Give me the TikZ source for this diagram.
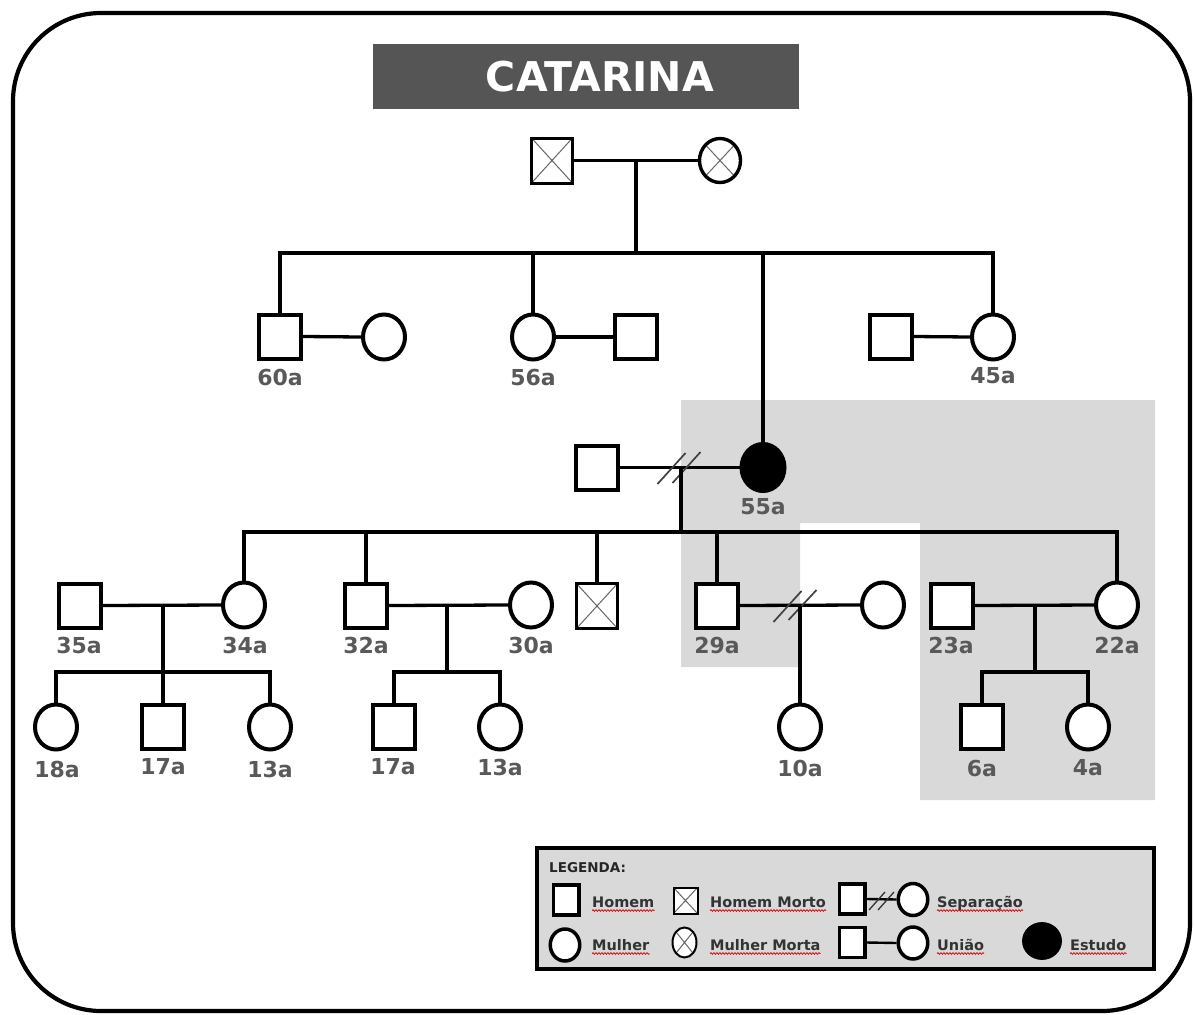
\documentclass[tikz,border=0pt]{standalone}
\usepackage{fontspec}
\setmainfont{DejaVu Sans}
\usetikzlibrary{shapes.geometric,decorations.pathmorphing}
\definecolor{shadegray}{HTML}{D9D9D9}
\definecolor{titlebg}{HTML}{555555}
\definecolor{lblgray}{HTML}{595959}
\definecolor{legtxt}{HTML}{333333}
\definecolor{xgray}{HTML}{666666}
\begin{document}
\begin{tikzpicture}[x=1pt,y=-1pt,
  rel/.style={line width=3.3pt},
  male/.style={draw, line width=4pt, fill=white, rectangle, minimum width=42pt, minimum height=44pt, inner sep=0pt},
  female/.style={draw, line width=4pt, fill=white, ellipse, minimum width=42pt, minimum height=45pt, inner sep=0pt},
  xmark/.style={path picture={\draw[xgray, line width=1pt]
      (path picture bounding box.north west) -- (path picture bounding box.south east)
      (path picture bounding box.north east) -- (path picture bounding box.south west);}},
  deadmale/.style={male, line width=3pt, minimum width=41pt, minimum height=45pt, xmark},
  deadfemale/.style={female, line width=3.4pt, minimum width=41pt, minimum height=44pt, xmark},
  proband/.style={draw, fill=black, ellipse, line width=1pt, minimum width=46pt, minimum height=50pt, inner sep=0pt},
  agelbl/.style={font=\bfseries\fontsize{22}{24}\selectfont, text=lblgray, inner sep=0pt},
  sepmark/.style={line width=1.7pt, black!75},
  lmale/.style={draw, line width=3.5pt, fill=white, rectangle, minimum width=25.5pt, minimum height=30pt, inner sep=0pt},
  lfemale/.style={draw, line width=3.5pt, fill=white, ellipse, minimum width=29.5pt, minimum height=32pt, inner sep=0pt},
  ldeadmale/.style={draw, line width=2pt, fill=white, rectangle, minimum width=24pt, minimum height=26pt, inner sep=0pt, xmark},
  ldeadfemale/.style={draw, line width=2pt, fill=white, ellipse, minimum width=24pt, minimum height=30pt, inner sep=0pt, xmark},
  legt/.style={font=\bfseries\fontsize{14.5}{16}\selectfont, text=legtxt, inner sep=0pt, anchor=base west},
  squig/.style={draw=red!85!black, line width=0.7pt, decorate, decoration={snake, amplitude=0.9pt, segment length=3pt}}
]
\useasboundingbox (0,0) rectangle (1195,1015);
\fill[white] (0,0) rectangle (1195,1015);

% shaded area
\fill[shadegray] (681,400) -- (1155,400) -- (1155,800) -- (920,800) -- (920,523)
  -- (800,523) -- (800,667) -- (681,667) -- cycle;

% outer frame
\draw[line width=4.2pt, rounded corners=88pt] (13,13) rectangle (1190,1011);

% title
\node[fill=titlebg, minimum width=426pt, minimum height=65pt, inner sep=0pt] (titlebox) at (586,76.5) {};
\node[font=\bfseries\fontsize{41}{44}\selectfont, text=white, inner sep=0pt] (title) at (600,77) {CATARINA};

% generation I
\node[deadmale] (gf) at (552,160.5) {};
\node[deadfemale] (gm) at (720,160.5) {};

% generation II
\node[male] (u1) at (280,336.5) {};
\node[female] (u1w) at (384,337) {};
\node[female] (a2) at (533,337) {};
\node[male] (a2h) at (636,337) {};
\node[male] (a4h) at (891,336.5) {};
\node[female] (a4) at (993,337) {};
\node[male] (cath) at (597,467.5) {};
\node[proband] (cat) at (763,467.5) {};

% generation III
\node[male] (c1h) at (80,605.5) {};
\node[female] (c1) at (244,605) {};
\node[male] (c2) at (366,605.5) {};
\node[female] (c2w) at (531,605) {};
\node[deadmale] (c3) at (597,606) {};
\node[male] (c4) at (717,605.5) {};
\node[female] (c4w) at (883,605) {};
\node[male] (c5h) at (952,605.5) {};
\node[female] (c5) at (1117,605) {};

% generation IV
\node[female] (g1) at (56,727) {};
\node[male] (g2) at (163,727) {};
\node[female] (g3) at (270,727) {};
\node[male] (g4) at (394,727) {};
\node[female] (g5) at (500,727) {};
\node[female] (g6) at (800,727) {};
\node[male] (g7) at (982,727) {};
\node[female] (g8) at (1088,727) {};

% coordinates
\coordinate (j1) at (636,161);
\coordinate (s1) at (636,253);
\coordinate (j2) at (681,467.5);
\coordinate (s2) at (681,532);
\coordinate (j3) at (163,605.5);
\coordinate (s3) at (163,672);
\coordinate (j4) at (447,605.5);
\coordinate (s4) at (447,672);
\coordinate (j5) at (800,605.5);
\coordinate (j6) at (1035,605.5);
\coordinate (s6) at (1035,672);

% generation I relations
\draw[rel] (gf.east) -- (gm.west);
\draw[rel] (j1) -- (s1);
\draw[rel] (u1.north) |- (s1) -| (a4.north);
\draw[rel] (a2.north) -- (a2.north |- s1);
\draw[rel] (cat.north) -- (cat.north |- s1);

% generation II relations
\draw[rel] (u1.east) -- (u1w.west);
\draw[rel] (a2.east) -- (a2h.west);
\draw[rel] (a4h.east) -- (a4.west);
\draw[rel] (cath.east) -- (cat.west);
\draw[sepmark] (657.5,484) -- (685.5,453);
\draw[sepmark] (672.5,483) -- (700.5,452);
\draw[rel] (j2) -- (s2);
\draw[rel] (c1.north) |- (s2) -| (c5.north);
\draw[rel] (c2.north) -- (c2.north |- s2);
\draw[rel] (c3.north) -- (c3.north |- s2);
\draw[rel] (c4.north) -- (c4.north |- s2);

% generation III relations
\draw[rel] (c1h.east) -- (c1.west);
\draw[rel] (c2.east) -- (c2w.west);
\draw[rel] (c4.east) -- (c4w.west);
\draw[rel] (c5h.east) -- (c5.west);
\draw[sepmark] (773.5,622) -- (801.5,591);
\draw[sepmark] (788.5,620) -- (816.5,590);
\draw[rel] (j3) -- (g2.north);
\draw[rel] (g1.north) |- (s3) -| (g3.north);
\draw[rel] (j4) -- (s4);
\draw[rel] (g4.north) |- (s4) -| (g5.north);
\draw[rel] (j5) -- (g6.north);
\draw[rel] (j6) -- (s6);
\draw[rel] (g7.north) |- (s6) -| (g8.north);

% age labels
\node[agelbl] (l60) at (280,377) {60a};
\node[agelbl] (l56) at (533,377) {56a};
\node[agelbl] (l45) at (993,376) {45a};
\node[agelbl] (l55) at (763,507) {55a};
\node[agelbl] (l35) at (79,645) {35a};
\node[agelbl] (l34) at (245,645) {34a};
\node[agelbl] (l32) at (366,645) {32a};
\node[agelbl] (l30) at (531,645) {30a};
\node[agelbl] (l29) at (717,645) {29a};
\node[agelbl] (l23) at (951,645) {23a};
\node[agelbl] (l22) at (1117,645) {22a};
\node[agelbl] (l18) at (57,769) {18a};
\node[agelbl] (l17a) at (163,767) {17a};
\node[agelbl] (l13a) at (270,769) {13a};
\node[agelbl] (l17b) at (393,767) {17a};
\node[agelbl] (l13b) at (500,767) {13a};
\node[agelbl] (l10) at (800,768) {10a};
\node[agelbl] (l6) at (982,768) {6a};
\node[agelbl] (l4) at (1088,768) {4a};

% legend
\node[draw, line width=3.2pt, fill=shadegray, minimum width=617pt, minimum height=121pt, inner sep=0pt] (legbox) at (845.5,908.5) {};
\node[font=\bfseries\fontsize{13.5}{15}\selectfont, text=black!85, inner sep=0pt, anchor=base west] (legtitle) at (549,872) {LEGENDA:};

\node[lmale] (lH) at (566,900) {};
\node[legt] (tH) at (592,907) {Homem};
\node[ldeadmale] (lHM) at (685.5,900.5) {};
\node[legt] (tHM) at (710,907) {Homem Morto};
\node[lmale] (lSm) at (852,899) {};
\node[lfemale] (lSf) at (913,899.5) {};
\draw[line width=2.4pt] (lSm.east) -- (lSf.west);
\draw[line width=1.3pt, black!80] (869,910) -- (885,892);
\draw[line width=1.3pt, black!80] (878,910) -- (894,892);
\node[legt] (tS) at (937,907) {Separação};

\node[lfemale] (lM) at (565,945) {};
\node[legt] (tM) at (592,950) {Mulher};
\node[ldeadfemale] (lMM) at (684.5,942.5) {};
\node[legt] (tMM) at (710,950) {Mulher Morta};
\node[lmale] (lUm) at (852,942.5) {};
\node[lfemale] (lUf) at (913,943) {};
\draw[line width=2.4pt] (lUm.east) -- (lUf.west);
\node[legt] (tU) at (937,950) {União};
\node[draw, fill=black, ellipse, line width=0.8pt, minimum width=39pt, minimum height=37pt, inner sep=0pt] (lE) at (1042,941) {};
\node[legt] (tE) at (1070,950) {Estudo};

\foreach \t in {tH,tHM,tS,tM,tMM,tU,tE}{
  \draw[squig] ([yshift=-3.5pt]\t.base west) -- ([yshift=-3.5pt]\t.base east);
}
\end{tikzpicture}
\end{document}
